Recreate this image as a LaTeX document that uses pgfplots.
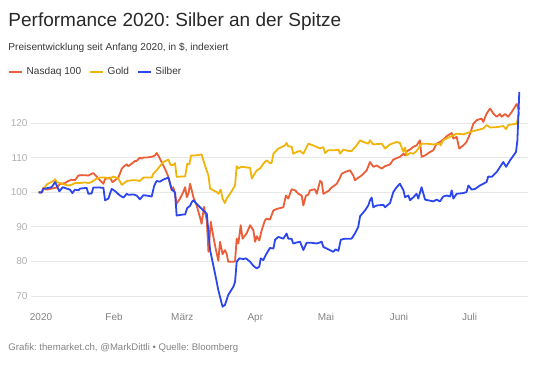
\documentclass[border=0pt]{standalone}
\usepackage{fontspec}
\setmainfont{Liberation Sans}
\usepackage{pgfplots}
\pgfplotsset{compat=1.18}
\frenchspacing
\definecolor{nasdaq}{RGB}{234,94,56}
\definecolor{gold}{RGB}{240,180,10}
\definecolor{silber}{RGB}{44,70,238}
\definecolor{titlec}{RGB}{40,40,40}
\definecolor{subc}{RGB}{55,55,55}
\definecolor{footc}{RGB}{130,130,130}
\definecolor{ytickc}{RGB}{175,175,175}
\definecolor{xtickc}{RGB}{130,130,130}
\definecolor{gridc}{RGB}{232,232,232}
\begin{document}
\begin{tikzpicture}
\useasboundingbox (0,0) rectangle (540pt,366pt);
\node[anchor=base west, inner sep=0pt, text=titlec, font=\fontsize{19}{22}\selectfont] at (8.3pt,339.3pt) {Performance 2020: Silber an der Spitze};
\node[anchor=base west, inner sep=0pt, text=subc, font=\fontsize{10.1}{12}\selectfont] at (8.3pt,315.3pt) {Preisentwicklung seit Anfang 2020, in \$, indexiert};
\node[anchor=base west, inner sep=0pt, text=footc, font=\fontsize{9.6}{11}\selectfont] at (8.3pt,15.3pt) {Grafik: themarket.ch, @MarkDittli • Quelle: Bloomberg};
\begin{axis}[
  at={(31pt,56.2pt)}, anchor=south west,
  scale only axis, width=497pt, height=221pt,
  xmin=-4.25, xmax=206.8, ymin=66, ymax=130,
  axis line style={draw=none},
  major tick length=0pt,
  ymajorgrids, grid style={gridc, line width=0.9pt},
  xtick={0,31,60,91,121,152,182},
  xticklabels={2020,Feb,März,Apr,Mai,Juni,Juli},
  ytick={70,80,90,100,110,120},
  /pgf/number format/assume math mode=true,
  yticklabel style={font=\fontsize{10}{12}\selectfont, text=ytickc},
  xticklabel style={font=\fontsize{10}{12}\selectfont, text=xtickc},
  legend columns=-1,
  legend style={at={(axis description cs:-0.0463,1.076)}, anchor=west, draw=none, fill=none, inner sep=0pt,
    font=\fontsize{10.1}{12}\selectfont, text=subc, nodes={inner sep=0pt}},
  /tikz/every odd column/.append style={column sep=3.3pt},
  /tikz/every even column/.append style={column sep=8pt},
  legend image code/.code={\draw[#1, line width=1.8pt] (0pt,0pt) -- (13.4pt,0pt);},
  every axis plot/.append style={line width=1.8pt, line join=round, no marks},
]
\addplot[nasdaq] coordinates {
(-1,100)(0.3,100)(1,101.4)(2.4,100.8)(4.5,101.1)(6.7,101.4)(8.1,102.5)(10.2,102.7)(11.6,103.3)(13,103.7)(14.4,103.5)(15.9,104.9)(17.3,105)(20.1,104.9)(22.2,105.6)(23.6,104.6)(25,103.5)(26.5,102.5)(27.2,103.9)(27.9,104)(29.3,104.3)(30.3,103)(31.4,103.5)(32.8,104.3)(33.5,105.4)(34.3,106.9)(35.7,107.8)(36.4,108.1)(37.1,107.6)(38.5,108.3)(39.9,109.1)(40.6,109.1)(42,110.1)(42.7,109.8)(43.5,110.1)(44.9,110.1)(47,110.3)(48.4,110.7)(49.1,111.4)(49.8,110.7)(51.2,108.8)(52.6,106.9)(54.1,104.5)(54.8,102.5)(55.5,100.6)(56.2,101.5)(56.9,99.6)(57.6,96.7)(59,98.2)(60.4,100.1)(61.2,101.5)(61.9,98.6)(62.6,99.6)(63.3,102.5)(64,100.6)(64.7,98.6)(66.1,96.2)(67.5,92.8)(68.2,90.9)(69.2,95.8)(70.4,91.9)(71.1,82.8)(72.1,91.5)(73.2,87.1)(74.3,83.3)(75.3,80.2)(76,85.7)(77.1,82.1)(78.1,83.3)(78.8,82.3)(79.5,79.9)(81.7,79.9)(82.4,80.1)(83.1,86.6)(83.8,85.2)(84.8,90.5)(85.6,86.6)(87.3,88.1)(88.8,90.5)(90.2,89)(90.9,85.7)(91.6,87.3)(92.7,86.1)(93.7,89)(95.1,91.9)(95.8,92.4)(97.2,92.1)
(98.7,94.8)(100.1,95.2)(102.9,95.7)(104,99.1)(105,98.2)(106.4,100.9)(107.9,100.6)(109.3,99.6)(110.7,99.1)(111.4,96.2)(112.5,99.1)(113.5,99.3)(114.2,100.6)(116.3,100.9)(117.1,99.6)(118.5,103.3)(119.2,103.0)(119.9,99.6)(122,100.4)(123.4,101.4)(125.6,102.5)(127,104.3)(127.7,105.4)(129.1,105.9)(131.2,106.4)(132.6,104.9)(133.3,103.5)(134.8,104.3)(136.2,104.9)(138.3,106.4)(139.7,108.8)(141.1,107.4)(142.5,107.8)(144.7,106.9)(146.1,107.6)(148.2,108.1)(149.6,109.5)(152.4,110.3)(153.9,111.2)(154.6,110.7)(155.3,111.9)(156.7,112.4)(158.1,113.2)(159.5,113.6)(160.9,115.1)(161.6,110.3)(163.1,110.7)(165.2,111.7)(166.6,112.2)(168,114.1)(169.4,114.6)(170.8,115.3)(172.3,116.3)(174.4,117.2)(175.1,115.6)(176.5,116.1)(177.6,112.7)(179.3,113.6)(180.7,114.6)(182.2,117)(183.6,119.9)(185,120.9)(187.1,121.4)(187.8,120.4)(189.2,122.8)(190.7,124.3)(192.1,122.8)(193.5,121.9)(194.9,122.7)(195.6,121.9)(197,122.7)(198.4,121.9)(199.9,123.3)(202,125.6)(202.7,124.3)(203.4,124.3)
};
\addlegendentry{Nasdaq 100}
\addplot[gold] coordinates {
(-1,100)(0.3,100)(1.7,101.5)(2.4,102.3)(5.2,103.3)(6,103.8)(6.7,103)(8.8,102.5)(11.6,102)(13,102.2)(14.4,102.7)(16.6,102.7)(18.7,102.9)(20.1,102.7)(21.5,103)(23.6,104)(25,104.3)(27.2,104.3)(29.3,104)(30.7,104.6)(32.8,104)(34.3,102.2)(35,102.5)(36.4,103.3)(38.5,103.5)(40.6,103.5)(42,103.3)(43.5,104.3)(45.6,104.3)(47,104.3)(47.7,105.4)(49.1,106.4)(50.5,107.6)(51.9,108.8)(54.1,109.5)(55.1,107.8)(56.2,108)(56.9,108.5)(57.6,104.5)(59.7,104.6)(61.2,104.6)(62.1,108.3)(63,108.1)(63.7,110.7)(65.4,110.7)(68.2,111)(69.6,107.8)(71.1,104.9)(71.8,101.1)(74.6,100.1)(75.3,99.6)(76.3,100.8)(77.1,98.2)(78.1,96.9)(78.8,98.2)(80.3,99.6)(82.4,102)(83.1,107.6)(83.8,107)(85.2,107.4)(88.8,107.1)(89.5,104)(91.6,106.4)(93,106.9)(94.4,108.3)(95.8,109.3)(97.2,108.5)
(97.9,108.5)(98.7,111.2)(100.8,112.7)(103.6,113.6)(104.3,114.3)(105,113.3)(106.4,113.3)(107.1,111.2)(108.6,111.7)(110,112)(111.4,111.2)(113.5,114.1)(115.6,113.6)(118.5,112.7)(119.9,113.1)(120.6,111.4)(122,112.2)(124.8,112.2)(126.3,112.4)(127,111.2)(128.4,112.4)(130.5,112)(131.9,112)(134,113.6)(135.5,115.1)(136.9,114.6)(139,114.1)(139.7,115.1)(141.1,113.9)(144.7,114.1)(146.1,112.7)(148.2,113.9)(151,114.6)(152.4,114.3)(153.9,111.7)(154.6,113)(155.3,110.7)(156.7,111.4)(158.1,111.2)(159.5,112)(160.9,113.4)(161.6,114.1)(163.8,114.1)(166.6,113.9)(169.4,114.1)(169.7,113.6)(170.8,115.1)(173.7,116.1)(176.5,117)(179.3,116.8)(182.2,117.5)(185,118)(187.8,118.5)(189.2,119.5)(190.7,118.8)(193.5,118.9)(196.3,119.2)(197.5,118.3)(198.4,119.5)(202,119.9)(203.1,123.3)
};
\addlegendentry{Gold}
\addplot[silber] coordinates {
(-1,100)(0.3,100)(1,101)(4.5,101.5)(6,103)(7.8,100.3)(9.2,101.5)(10.9,101.1)(12.3,100.8)(13.3,99.8)(14.4,100.8)(15.9,100.6)(16.6,101.1)(19.4,101.3)(20.1,99.6)(21.5,99.7)(22.2,101.4)(25,101.4)(26.5,101.3)(27.2,97.7)(28.6,98.2)(30,101)(31.4,100.4)(33.5,99.1)(35,98.5)(36.4,99.6)(37.1,99.3)(39.2,99.4)(40.6,99.1)(42,98.0)(43.5,99.2)(45.6,99.0)(47,98.8)(48.1,102)(49.1,103.3)(50.5,103.1)(51.9,103.7)(54.1,104.3)(55.5,100.9)(56.9,100)(57.6,93.3)(60.4,93.6)(61.2,93.6)(62.1,95.5)(63.3,96.1)(64,97.2)(64.7,97.7)(66.1,96.7)(67.5,95.7)(70.4,93.8)
(71.8,83.3)(73.9,76.5)(75.3,71.7)(76,69.8)(77.1,66.9)(78.1,67.4)(79.5,70.3)(81.7,72.7)(82.4,74.1)(83.1,79.9)(84.2,80.9)(85.9,80.7)(87,80.9)(88.8,79.9)(90.2,78.7)(91.6,78.0)(92.7,78.5)(93.3,80.9)(94.4,80.4)(95.8,82.3)(97.2,83.9)(98.7,83.75)(99.4,86.3)(100.8,87.1)(102.9,86.6)(104.3,88.1)(105,86.6)(106.4,86.6)(107.1,85.2)(108.6,85.5)(110,85.7)(111.4,83.3)(112.8,85.4)(114.9,85.4)(117.1,85.2)(119.2,85.7)(119.9,84.2)(122,83.5)(124.1,82.8)(125.1,83.5)(126.3,83.1)(127.3,86.3)(129.1,86.6)(131.9,86.6)(133.3,88.1)(134.7,90)(135.5,93.1)(137.6,94.8)(139,96.25)(139.7,97.7)(140.4,98.5)(141.1,95.7)(142.5,96.2)(145.4,96.4)(146.1,95.7)(148.2,96.9)(149.6,100.1)(151,101.5)(152.4,102.5)(153.9,100.6)(154.6,98.6)(156,99.1)(156.7,97.7)(158.1,98.6)(159.5,99.6)(160.2,98.2)(161.6,101.5)(163.1,97.9)(164.5,97.7)(166.6,97.4)(168,97.9)(169.4,97.4)(170.8,98.8)(172.3,99.1)(173.7,98.8)(174.4,100.6)(175.1,98.2)(176.5,99.6)(179.3,99.8)(180.7,100.1)(181.5,102)(182.9,100.8)(184.3,101.0)(186.4,102)(189.2,103)(189.9,104.6)(191.4,104.5)(193.5,105.9)(196.3,108.8)(197.5,107.4)(199.2,109.3)(201.7,111.7)(202.3,115.1)(203.1,129.1)
};
\addlegendentry{Silber}
\end{axis}
\end{tikzpicture}
\end{document}
